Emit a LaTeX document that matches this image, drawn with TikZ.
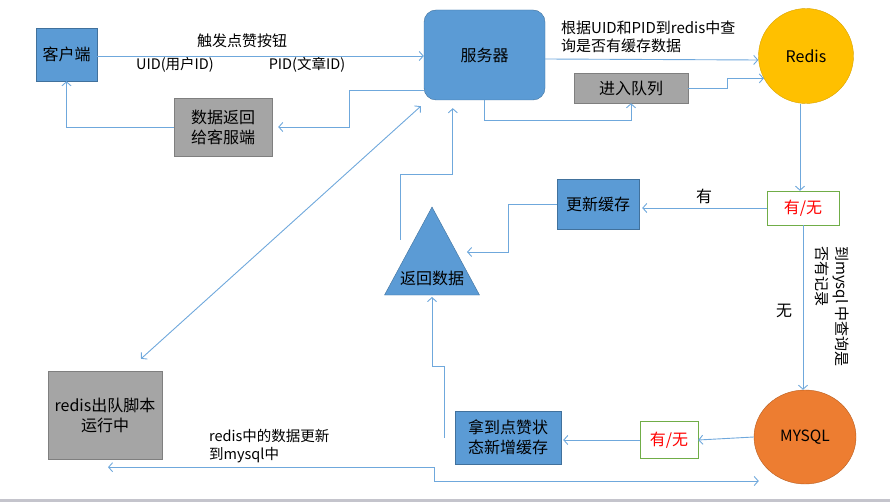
\documentclass[tikz,border=0pt]{standalone}
\usepackage{fontspec}
\setmainfont{Noto Sans CJK SC}
\usetikzlibrary{shapes.geometric, arrows.meta, positioning, calc}
\definecolor{boxblue}{HTML}{5B9BD5}
\definecolor{boxblueline}{HTML}{41719C}
\definecolor{boxgray}{HTML}{A5A5A5}
\definecolor{boxgrayline}{HTML}{7F7F7F}
\definecolor{redisyellow}{HTML}{FFC000}
\definecolor{redisline}{HTML}{D9A300}
\definecolor{mysqlorange}{HTML}{ED7D31}
\definecolor{mysqlline}{HTML}{B85F22}
\definecolor{checkgreen}{HTML}{70AD47}
\definecolor{linkblue}{HTML}{6FA8DC}
\definecolor{barline}{HTML}{C4C4CC}
\tikzset{
    bluebox/.style={draw=boxblueline, fill=boxblue, align=center, inner sep=0pt, font=\fontsize{16}{20}\selectfont},
    graybox/.style={draw=boxgrayline, fill=boxgray, align=center, inner sep=0pt, font=\fontsize{16}{20}\selectfont},
    checkbox/.style={draw=checkgreen, fill=white, text=red, inner sep=0pt, font=\fontsize{16}{20}\selectfont},
    note/.style={inner sep=0pt, font=\fontsize{14.5}{18}\selectfont},
    arrow/.style={-{Straight Barb[length=4pt, width=9pt]}, linkblue, line width=0.9pt},
    biarrow/.style={{Straight Barb[length=4pt, width=9pt]}-{Straight Barb[length=4pt, width=9pt]}, linkblue, line width=0.9pt}
}

\begin{document}
\begin{tikzpicture}[x=1pt, y=-1pt]
        \useasboundingbox (0,0) rectangle (890,502);
        \fill [barline] (0,499) rectangle (890,502);
        % nodes
        \node [bluebox, minimum width=61, minimum height=53] (client) at (66.5,54.5) {客户端};
        \node [bluebox, rounded corners=12pt, minimum width=121, minimum height=90] (server) at (484.5,55) {服务器};
        \node [circle, draw=redisline, fill=redisyellow, minimum size=95, inner sep=0pt, font=\fontsize{16}{20}\selectfont] (redis) at (806,56) {Redis};
        \node [graybox, minimum width=114, minimum height=30] (queue) at (631,88) {进入队列};
        \node [graybox, minimum width=98, minimum height=58, align=left] (back) at (223,127) {数据返回\\给客服端};
        \node [checkbox, minimum width=72, minimum height=34] (hit) at (803,208) {有/无};
        \node [bluebox, minimum width=82, minimum height=50] (update) at (598,204) {更新缓存};
        \coordinate (apex) at (432,207);
        \filldraw [fill=boxblue, draw=boxblueline] (apex) -- (479.5,295) -- (384.5,295) -- cycle;
        \node [note, font=\fontsize{16}{20}\selectfont] (reply) at (432,278) {返回数据};
        \coordinate (replyin) at (467,252);
        \coordinate (replyout) at (400,240);
        \coordinate (replybase) at (432,297);
        \node [graybox, minimum width=114, minimum height=88] (script) at (105,415) {redis出队脚本\\运行中};
        \node [ellipse, draw=mysqlline, fill=mysqlorange, minimum width=102, minimum height=94, inner sep=0pt, font=\fontsize{15.5}{19}\selectfont] (mysql) at (805,437) {MYSQL};
        \node [checkbox, minimum width=58, minimum height=37] (found) at (669,440) {有/无};
        \node [bluebox, minimum width=106, minimum height=53] (fetch) at (508,437.5) {拿到点赞状\\态新增缓存};
        % labels
        \node [note, font=\fontsize{15}{18}\selectfont] (press) at (242,41) {触发点赞按钮};
        \node [note] (uid) at (175,65) {UID(用户ID)};
        \node [note] (pid) at (307,65) {PID(文章ID)};
        \node [note, anchor=north west, align=left, font=\fontsize{15}{18}\selectfont] (lookup) at (561,21) {根据UID和PID到redis中查\\询是否有缓存数据};
        \node [note, font=\fontsize{16}{20}\selectfont] (yes) at (704,196) {有};
        \node [note, font=\fontsize{16}{20}\selectfont] (no) at (784,311) {无};
        \node [note, rotate=-90, anchor=north west, align=left, font=\fontsize{15}{20}\selectfont] (askdb) at (849,246) {到mysql 中查询是\\否有记录};
        \node [note, anchor=west, align=left] (sync) at (209,446) {redis中的数据更新\\到mysql中};
        % connectors
        \draw [arrow] ([yshift=-1.5pt]client.east) -- ([yshift=-1.5pt]client.east -| server.west);
        \draw [arrow] ([yshift=-4pt]server.east) -- ([yshift=-4pt]redis.west);
        \draw [arrow] (server.south) -- ++(0,20) -| (queue.south);
        \draw [arrow] (queue.east) -- ++(39,0) |- (redis.208);
        \draw [arrow] ([yshift=-35pt]server.west) -- ++(-74,0) |- ([xshift=6pt]back.east);
        \draw [arrow] (back.west) -| (client.south);
        \draw [arrow] ([xshift=-3pt]hit.north |- redis.south) -- ([xshift=-3pt]hit.north);
        \draw [arrow] (hit.west) -- ([xshift=3pt]hit.west -| update.east);
        \draw [arrow] (update.west) -- ++(-48,0) |- (replyin);
        \draw [arrow] (replyout) -- ++(0,-66) -| ([xshift=29pt, yshift=-8pt]server.south west);
        \draw [biarrow] ([xshift=-3pt, yshift=-6pt]server.south west) -- ([xshift=36pt, yshift=12pt]script.north);
        \draw [arrow] (hit.south) -- (hit.south |- mysql.north);
        \draw [arrow] (mysql.west) -- (found.east);
        \draw [arrow] (found.west) -- ([xshift=2pt]found.west -| fetch.east);
        \draw [arrow] ([xshift=-10pt]fetch.west) -- ++(0,-71) -| (replybase);
        \draw [biarrow] ([xshift=3pt, yshift=-8pt]script.south) -- ++(326,0) |- ([xshift=5pt, yshift=-44pt]mysql.west);
\end{tikzpicture}
\end{document}
